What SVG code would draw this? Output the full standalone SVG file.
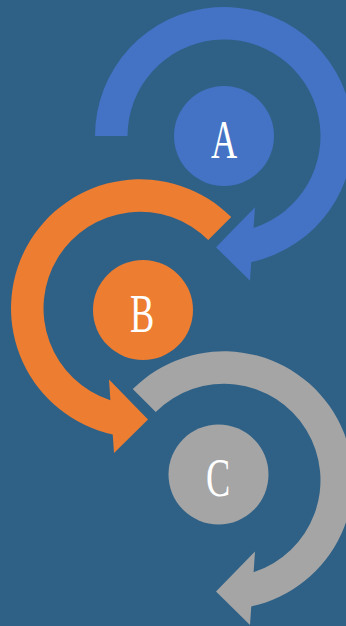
<svg xmlns="http://www.w3.org/2000/svg" width="346" height="626" viewBox="0 0 346 626">
<style>
.a{fill:#4472C4}.b{fill:#ED7D31}.c{fill:#A5A5A5}
.lbl{font-family:"Liberation Serif","Times New Roman",serif;font-size:55px;fill:#FFFFFF;text-anchor:middle}
</style>
<rect width="346" height="626" fill="#2F6186"/>
<g id="connectors">
<path id="arrow-a" class="a" d="M 95 136 A 129 129 0 1 1 251.27 262.09 L 250 280.7 L 216 247.3 L 255 207.3 L 253.6 227.85 A 96.5 96.5 0 1 0 127.5 136 Z"/>
<path id="arrow-b" class="b" d="M 231.22 217.08 A 129 129 0 1 0 112.73 434.39 L 114 453 L 148 419.6 L 109 379.6 L 110.4 400.15 A 96.5 96.5 0 1 1 208.24 240.06 Z"/>
<path id="arrow-c" class="c" d="M 132.78 389.08 A 129 129 0 1 1 251.27 606.39 L 250 625 L 216 591.6 L 255 551.6 L 253.6 572.15 A 96.5 96.5 0 1 0 155.76 412.06 Z"/>
</g>
<g id="node-a">
<circle class="a" cx="224" cy="136" r="50"/>
<text class="lbl" transform="translate(224,158) scale(0.66,1)" x="0" y="0">A</text>
</g>
<g id="node-b">
<circle class="b" cx="143" cy="310" r="50"/>
<text class="lbl" transform="translate(142.2,332) scale(0.66,1)" x="0" y="0">B</text>
</g>
<g id="node-c">
<circle class="c" cx="218.5" cy="474.5" r="50"/>
<text class="lbl" transform="translate(218,495.5) scale(0.66,1)" x="0" y="0">C</text>
</g>
</svg>
